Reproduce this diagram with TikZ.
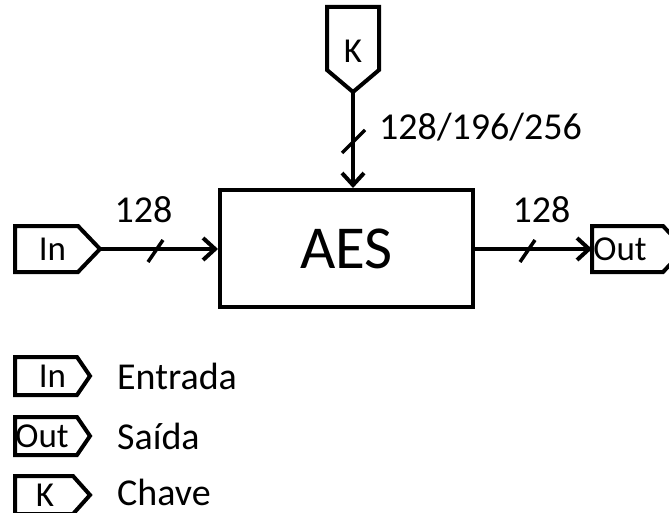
\documentclass[tikz,border=0pt]{standalone}
\usepackage{fontspec}
\setmainfont{Carlito}
\usetikzlibrary{arrows.meta}
% #1 node, #2 left, #3 right vertical, #4 tip, #5 half height (offsets from node centre)
\newcommand\PentEast[5]{%
  \draw[portline] ([shift={(#2,-#5)}]#1.center) -- ([shift={(#3,-#5)}]#1.center)
    -- ([shift={(#4,0)}]#1.center) -- ([shift={(#3,#5)}]#1.center)
    -- ([shift={(#2,#5)}]#1.center) -- cycle;}
\begin{document}
\begin{tikzpicture}[x=1pt,y=-1pt,
  portline/.style={line width=4pt,line join=miter},
  ptxt/.style={inner sep=0pt,font=\fontsize{35}{40}\selectfont},
  lbl/.style={inner sep=0pt,font=\fontsize{38}{44}\selectfont},
  bus/.style={line width=4pt,-{Straight Barb[length=12pt,width=22pt]}},
  tick/.style={line width=3.5pt}]
\useasboundingbox (0,0) rectangle (669,513);
% main block
\node[draw,line width=4pt,minimum width=253pt,minimum height=117pt,inner sep=0pt,
  font=\fontsize{61}{66}\selectfont] (aes) at (346.5,248.5) {AES};
% ports
\node[ptxt] (in) at (52.5,249) {In};
\PentEast{in}{-37.5}{25.5}{47.5}{23}
\coordinate (intip) at ([shift={(47.5,0)}]in.center);
\node[ptxt] (out) at (620,249) {Out};
\PentEast{out}{-28}{43}{65}{23}
\coordinate (outleft) at ([shift={(-28,0)}]out.center);
\node[ptxt] (k) at (353,51) {K};
\draw[portline] ([shift={(-26,-44)}]k.center) -- ([shift={(26,-44)}]k.center)
  -- ([shift={(26,19)}]k.center) -- ([shift={(0,41)}]k.center)
  -- ([shift={(-26,19)}]k.center) -- cycle;
\coordinate (ktip) at ([shift={(0,41)}]k.center);
% connectors
\draw[bus] (intip) -- (intip -| aes.west);
\draw[bus] (aes.east |- outleft) -- (outleft);
\draw[bus] (ktip) -- (ktip |- aes.north);
% ticks
\coordinate (t1) at (155.5,251);
\coordinate (t2) at (527.5,251);
\coordinate (t3) at (353.5,141.5);
\draw[tick] ([shift={(-7.5,11)}]t1) -- ([shift={(7.5,-11)}]t1);
\draw[tick] ([shift={(-7.5,11)}]t2) -- ([shift={(7.5,-11)}]t2);
\draw[tick] ([shift={(-11.5,11.5)}]t3) -- ([shift={(11.5,-11.5)}]t3);
% labels
\node[lbl] (l1) at (143.5,210) {128};
\node[lbl] (l2) at (541.5,210) {128};
\node[lbl,anchor=west] (l3) at (379,127) {128/196/256};
% legend
\node[ptxt] (lin) at (52.5,376) {In};
\PentEast{lin}{-37.5}{24.5}{37.5}{19}
\node[ptxt] (lout) at (42,436) {Out};
\PentEast{lout}{-27}{35}{48}{19}
\node[ptxt] (lk) at (45,495) {K};
\PentEast{lk}{-30}{28}{45}{19}
\node[lbl,anchor=west] (e1) at (117,376) {Entrada};
\node[lbl,anchor=west] (e2) at (117,436) {Saída};
\node[lbl,anchor=west] (e3) at (117,492) {Chave};
\end{tikzpicture}
\end{document}
